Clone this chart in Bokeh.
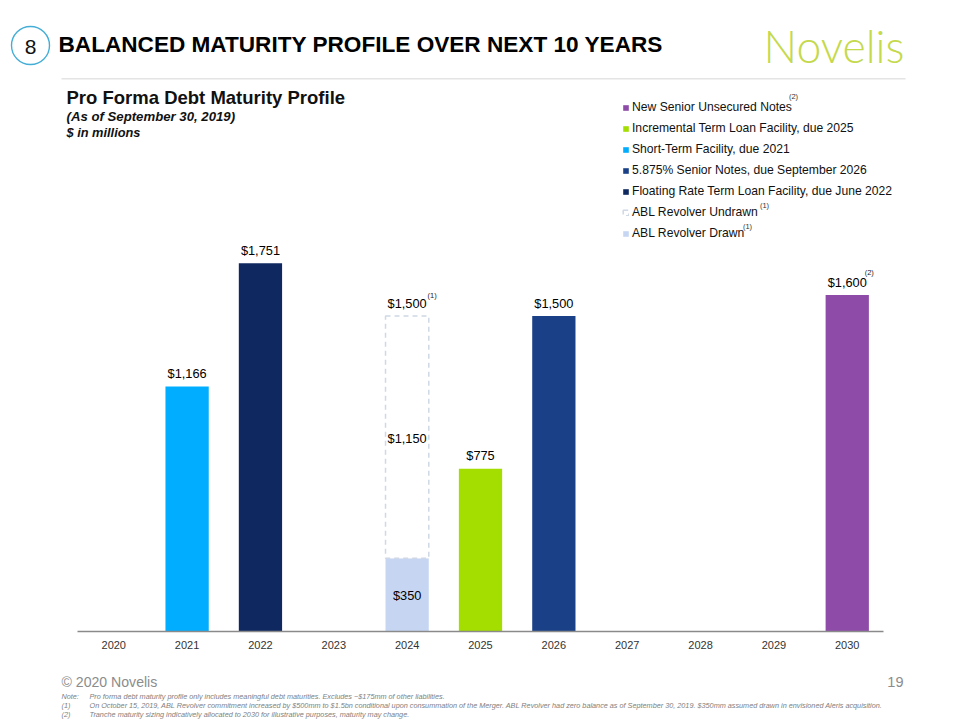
from bokeh.plotting import figure
from bokeh.models import Label, Legend, LegendItem, BoxAnnotation, FactorRange, Range1d
from bokeh.core.properties import value
from bokeh.embed import file_html
from bokeh.resources import INLINE

years = ["2020","2021","2022","2023","2024","2025","2026","2027","2028","2029","2030"]

notes_year = ["2030"];  notes_val = [1600]
incr_year = ["2025"];   incr_val = [775]
short_year = ["2021"];  short_val = [1166]
senior_year = ["2026"]; senior_val = [1500]
term_year = ["2022"];   term_val = [1751]
undrawn_year = ["2024"]; undrawn_val = [1150]
drawn_year = ["2024"];  drawn_val = [350]

total_labels = {"2021": 1166, "2022": 1751, "2024": 1500, "2025": 775, "2026": 1500, "2030": 1600}

FONT = "Liberation Sans"
W, H = 960, 720
p = figure(width=W, height=H,
           x_range=FactorRange(factors=years, range_padding=1.044, range_padding_units="absolute"),
           y_range=Range1d(-421, 2999), output_backend="svg",
           toolbar_location=None, min_border=0)
p.outline_line_color = None
p.background_fill_color = "white"
p.border_fill_color = "white"
p.xgrid.visible = False
p.ygrid.visible = False
p.yaxis.visible = False
ax = p.xaxis[0]
ax.fixed_location = 0
ax.bounds = (0, 11)
ax.major_tick_line_color = None
ax.minor_tick_line_color = None
ax.axis_line_color = "#8a8a8a"
ax.axis_line_width = 1.5
ax.major_label_text_font = FONT
ax.major_label_text_font_size = "11px"
ax.major_label_text_color = "#333333"
ax.major_label_standoff = 3

BW = 0.59
def bar(x, top, color, bottom=0, **kw):
    bottoms = [bottom] * len(top) if not isinstance(bottom, list) else bottom
    tops = [b + t for b, t in zip(bottoms, top)]
    args = dict(line_color=None, fill_color=color)
    args.update(kw)
    return p.vbar(x=x, top=tops, bottom=bottoms, width=BW, **args)

r_notes = bar(notes_year, notes_val, "#8e4ba8")
r_incr = bar(incr_year, incr_val, "#a4de00")
r_short = bar(short_year, short_val, "#00adff")
r_senior = bar(senior_year, senior_val, "#1a4187")
r_term = bar(term_year, term_val, "#0f2860")
r_drawn = bar(drawn_year, drawn_val, "#c6d6f2")
r_undrawn = bar(undrawn_year, undrawn_val, "#ffffff", bottom=drawn_val,
                line_color="#cfd8e4", line_dash="5 4", line_width=1.5)

legend = Legend(items=[
    LegendItem(label="New Senior Unsecured Notes", renderers=[r_notes]),
    LegendItem(label="Incremental Term Loan Facility, due 2025", renderers=[r_incr]),
    LegendItem(label="Short-Term Facility, due 2021", renderers=[r_short]),
    LegendItem(label="5.875% Senior Notes, due September 2026", renderers=[r_senior]),
    LegendItem(label="Floating Rate Term Loan Facility, due June 2022", renderers=[r_term]),
    LegendItem(label="ABL Revolver Undrawn", renderers=[r_undrawn]),
    LegendItem(label="ABL Revolver Drawn", renderers=[r_drawn]),
], location=(622, 480), orientation="vertical", background_fill_alpha=0, border_line_color=None,
   glyph_width=7, glyph_height=7, label_standoff=3, spacing=7, padding=0, margin=0,
   label_height=12, label_text_font=FONT, label_text_font_size="12.15px", label_text_color="#111111")
p.add_layout(legend, "center")

# data labels
LBL = "12.8px"
lab_x = list(total_labels.keys())
lab_y = list(total_labels.values())
p.text(x=lab_x, y=lab_y, text=[f"${v:,}" for v in lab_y], text_font=value(FONT), text_font_size=LBL,
       text_color="#000000", text_align="center", text_baseline="middle", y_offset=-13)
p.text(x=undrawn_year, y=[drawn_val[0] + undrawn_val[0] / 2], text=[f"${undrawn_val[0]:,}"], text_font=value(FONT),
       text_font_size=LBL, text_color="#000000", text_align="center", text_baseline="middle", y_offset=1)
p.text(x=drawn_year, y=[drawn_val[0] / 2], text=[f"${drawn_val[0]:,}"], text_font=value(FONT),
       text_font_size=LBL, text_color="#000000", text_align="center", text_baseline="middle")
p.text(x=["2024", "2030"], y=[1500, 1600], text=["(1)", "(2)"], text_font=value(FONT), text_font_size="7.5px",
       text_color="#222222", text_align="center", text_baseline="middle", x_offset=[25, 22], y_offset=[-21, -23])

def txt(x, y, s, size, color="#000000", style="normal", font=FONT, align="left"):
    """x, y are page pixels of the text's left/middle."""
    p.add_layout(Label(x=x, y=H - y, x_units="screen", y_units="screen", text=s,
                       text_font=font, text_font_size=f"{size}px", text_color=color,
                       text_font_style=style, text_align=align, text_baseline="middle"))

def box(l, t, r, b, **kw):
    p.add_layout(BoxAnnotation(left=l, right=r, top=H - t, bottom=H - b,
                               left_units="screen", right_units="screen", top_units="screen",
                               bottom_units="screen", **kw))

box(11, 26, 49, 64, fill_alpha=0, line_color="#45aed6", line_alpha=1, line_width=1.4, border_radius=19)
txt(30, 46, "8", 21, "#111111", align="center")
txt(58, 44, "BALANCED MATURITY PROFILE OVER NEXT 10 YEARS", 22.6, "#000000", "bold")
txt(763, 45, "Novelis", 44.5, "#c4d94b", font="Lato Light")
box(61, 77.5, 905, 79, fill_color="#e4e4e4", fill_alpha=1, line_color=None)
txt(66, 97, "Pro Forma Debt Maturity Profile", 18.5, "#111111", "bold")
txt(66, 116, "(As of September 30, 2019)", 13.2, "#111111", "bold italic")
txt(66, 132, "$ in millions", 12.8, "#111111", "bold italic")
txt(793, 96, "(2)", 7.5, "#333333", align="center")
txt(764, 205, "(1)", 7.5, "#333333", align="center")
txt(747, 226, "(1)", 7.5, "#333333", align="center")
txt(61, 681, "\u00a9 2020 Novelis", 14.1, "#8c8c8c")
txt(903, 681, "19", 14.5, "#8c8c8c", align="right")
NOTE = "#808080"
for y, k, s in [
    (695.5, "Note:", "Pro forma debt maturity profile only includes meaningful debt maturities. Excludes ~$175mm of other liabilities."),
    (704.5, "(1)", "On October 15, 2019, ABL Revolver commitment increased by $500mm to $1.5bn conditional upon consummation of the Merger. ABL Revolver had zero balance as of September 30, 2019. $350mm assumed drawn in envisioned Aleris acquisition."),
    (713.5, "(2)", "Tranche maturity sizing indicatively allocated to 2030 for illustrative purposes, maturity may change."),
]:
    txt(61, y, k, 7.27, NOTE, "italic")
    txt(89, y, s, 7.27, NOTE, "italic")

open("out.html", "w").write(file_html(p, INLINE))
